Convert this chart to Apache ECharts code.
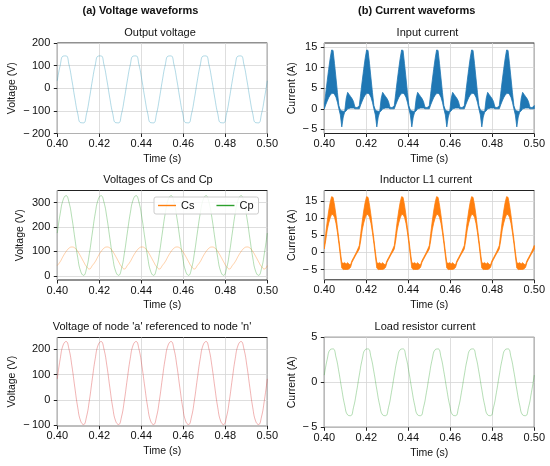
<!DOCTYPE html>
<html><head><meta charset="utf-8">
<script src="https://cdn.jsdelivr.net/npm/echarts@6/dist/echarts.min.js"></script>
<style>html,body{margin:0;padding:0;background:#fff}#c{width:550px;height:466px}</style>
</head><body><div id="c"></div>
<script>
// sampling instants (12 per 60 Hz cycle) for the sinusoidal traces
const timeCoarse = [
0.40000,0.40139,0.40278,0.40417,0.40556,0.40694,0.40833,0.40972,0.41111,0.41250,0.41389,0.41528,
0.41667,0.41806,0.41944,0.42083,0.42222,0.42361,0.42500,0.42639,0.42778,0.42917,0.43056,0.43194,
0.43333,0.43472,0.43611,0.43750,0.43889,0.44028,0.44167,0.44306,0.44444,0.44583,0.44722,0.44861,
0.45000,0.45139,0.45278,0.45417,0.45556,0.45694,0.45833,0.45972,0.46111,0.46250,0.46389,0.46528,
0.46667,0.46806,0.46944,0.47083,0.47222,0.47361,0.47500,0.47639,0.47778,0.47917,0.48056,0.48194,
0.48333,0.48472,0.48611,0.48750,0.48889,0.49028,0.49167,0.49306,0.49444,0.49583,0.49722,0.49861,
0.50000];
// sampling instants (24 per cycle) for the rippled current envelopes
const timeFine = [
0.40000,0.40069,0.40139,0.40208,0.40278,0.40347,0.40417,0.40486,0.40556,0.40625,0.40694,0.40764,0.40833,0.40903,0.40972,0.41042,0.41111,0.41181,0.41250,0.41319,0.41389,0.41458,0.41528,0.41597,
0.41667,0.41736,0.41806,0.41875,0.41944,0.42014,0.42083,0.42153,0.42222,0.42292,0.42361,0.42431,0.42500,0.42569,0.42639,0.42708,0.42778,0.42847,0.42917,0.42986,0.43056,0.43125,0.43194,0.43264,
0.43333,0.43403,0.43472,0.43542,0.43611,0.43681,0.43750,0.43819,0.43889,0.43958,0.44028,0.44097,0.44167,0.44236,0.44306,0.44375,0.44444,0.44514,0.44583,0.44653,0.44722,0.44792,0.44861,0.44931,
0.45000,0.45069,0.45139,0.45208,0.45278,0.45347,0.45417,0.45486,0.45556,0.45625,0.45694,0.45764,0.45833,0.45903,0.45972,0.46042,0.46111,0.46181,0.46250,0.46319,0.46389,0.46458,0.46528,0.46597,
0.46667,0.46736,0.46806,0.46875,0.46944,0.47014,0.47083,0.47153,0.47222,0.47292,0.47361,0.47431,0.47500,0.47569,0.47639,0.47708,0.47778,0.47847,0.47917,0.47986,0.48056,0.48125,0.48194,0.48264,
0.48333,0.48403,0.48472,0.48542,0.48611,0.48681,0.48750,0.48819,0.48889,0.48958,0.49028,0.49097,0.49167,0.49236,0.49306,0.49375,0.49444,0.49514,0.49583,0.49653,0.49722,0.49792,0.49861,0.49931,
0.50000];

const outputVoltage = [
33,102,142,143,104,36,-43,-112,-152,-153,-114,-46,
33,102,142,143,104,36,-43,-112,-152,-153,-114,-46,
33,102,142,143,104,36,-43,-112,-152,-153,-114,-46,
33,102,142,143,104,36,-43,-112,-152,-153,-114,-46,
33,102,142,143,104,36,-43,-112,-152,-153,-114,-46,
33,102,142,143,104,36,-43,-112,-152,-153,-114,-46,
33];
const voltageCs = [
42,58,80,99,113,118,114,100,80,58,38,28,
42,58,80,99,113,118,114,100,80,58,38,28,
42,58,80,99,113,118,114,100,80,58,38,28,
42,58,80,99,113,118,114,100,80,58,38,28,
42,58,80,99,113,118,114,100,80,58,38,28,
42,58,80,99,113,118,114,100,80,58,38,28,
42];
const voltageCp = [
175,255,311,328,301,238,155,75,19,2,29,92,
175,255,311,328,301,238,155,75,19,2,29,92,
175,255,311,328,301,238,155,75,19,2,29,92,
175,255,311,328,301,238,155,75,19,2,29,92,
175,255,311,328,301,238,155,75,19,2,29,92,
175,255,311,328,301,238,155,75,19,2,29,92,
175];
const voltageNodeA = [
83,163,217,231,201,135,50,-30,-84,-98,-68,-2,
83,163,217,231,201,135,50,-30,-84,-98,-68,-2,
83,163,217,231,201,135,50,-30,-84,-98,-68,-2,
83,163,217,231,201,135,50,-30,-84,-98,-68,-2,
83,163,217,231,201,135,50,-30,-84,-98,-68,-2,
83,163,217,231,201,135,50,-30,-84,-98,-68,-2,
83];
const loadCurrent = [
0.80,2.56,3.62,3.71,2.81,1.17,-0.80,-2.55,-3.62,-3.71,-2.81,-1.16,
0.80,2.56,3.62,3.71,2.81,1.17,-0.80,-2.55,-3.62,-3.71,-2.81,-1.16,
0.80,2.56,3.62,3.71,2.81,1.17,-0.80,-2.55,-3.62,-3.71,-2.81,-1.16,
0.80,2.56,3.62,3.71,2.81,1.17,-0.80,-2.55,-3.62,-3.71,-2.81,-1.16,
0.80,2.56,3.62,3.71,2.81,1.17,-0.80,-2.55,-3.62,-3.71,-2.81,-1.16,
0.80,2.56,3.62,3.71,2.81,1.17,-0.80,-2.55,-3.62,-3.71,-2.81,-1.16,
0.80];
// upper / lower envelope of the switching-ripple band
const inputCurrentUpper = [
0.8,3.8,6.8,9.6,12.2,14.3,14.2,11.0,7.5,4.0,0.8,-0.3,-0.5,-0.6,-0.6,2.5,4.0,3.5,3.0,2.5,1.8,0.4,0.3,0.4,
0.8,3.8,6.8,9.6,12.2,14.3,14.2,11.0,7.5,4.0,0.8,-0.3,-0.5,-0.6,-0.6,2.5,4.0,3.5,3.0,2.5,1.8,0.4,0.3,0.4,
0.8,3.8,6.8,9.6,12.2,14.3,14.2,11.0,7.5,4.0,0.8,-0.3,-0.5,-0.6,-0.6,2.5,4.0,3.5,3.0,2.5,1.8,0.4,0.3,0.4,
0.8,3.8,6.8,9.6,12.2,14.3,14.2,11.0,7.5,4.0,0.8,-0.3,-0.5,-0.6,-0.6,2.5,4.0,3.5,3.0,2.5,1.8,0.4,0.3,0.4,
0.8,3.8,6.8,9.6,12.2,14.3,14.2,11.0,7.5,4.0,0.8,-0.3,-0.5,-0.6,-0.6,2.5,4.0,3.5,3.0,2.5,1.8,0.4,0.3,0.4,
0.8,3.8,6.8,9.6,12.2,14.3,14.2,11.0,7.5,4.0,0.8,-0.3,-0.5,-0.6,-0.6,2.5,4.0,3.5,3.0,2.5,1.8,0.4,0.3,0.4,
0.8];
const inputCurrentLower = [
0.0,1.0,1.9,2.7,3.3,3.7,3.8,3.5,2.8,1.6,0.0,-1.5,-4.4,-2.0,-0.8,-0.5,0.0,0.1,0.2,0.2,0.2,0.0,0.0,0.0,
0.0,1.0,1.9,2.7,3.3,3.7,3.8,3.5,2.8,1.6,0.0,-1.5,-4.4,-2.0,-0.8,-0.5,0.0,0.1,0.2,0.2,0.2,0.0,0.0,0.0,
0.0,1.0,1.9,2.7,3.3,3.7,3.8,3.5,2.8,1.6,0.0,-1.5,-4.4,-2.0,-0.8,-0.5,0.0,0.1,0.2,0.2,0.2,0.0,0.0,0.0,
0.0,1.0,1.9,2.7,3.3,3.7,3.8,3.5,2.8,1.6,0.0,-1.5,-4.4,-2.0,-0.8,-0.5,0.0,0.1,0.2,0.2,0.2,0.0,0.0,0.0,
0.0,1.0,1.9,2.7,3.3,3.7,3.8,3.5,2.8,1.6,0.0,-1.5,-4.4,-2.0,-0.8,-0.5,0.0,0.1,0.2,0.2,0.2,0.0,0.0,0.0,
0.0,1.0,1.9,2.7,3.3,3.7,3.8,3.5,2.8,1.6,0.0,-1.5,-4.4,-2.0,-0.8,-0.5,0.0,0.1,0.2,0.2,0.2,0.0,0.0,0.0,
0.0];
const inductorCurrentUpper = [
2.0,5.5,9.0,12.0,14.5,16.2,16.0,13.8,10.8,7.2,3.8,0.2,-3.0,-3.2,-3.0,-3.4,-3.0,-3.5,-3.6,-2.4,-1.6,-0.8,0.0,1.0,
2.0,5.5,9.0,12.0,14.5,16.2,16.0,13.8,10.8,7.2,3.8,0.2,-3.0,-3.2,-3.0,-3.4,-3.0,-3.5,-3.6,-2.4,-1.6,-0.8,0.0,1.0,
2.0,5.5,9.0,12.0,14.5,16.2,16.0,13.8,10.8,7.2,3.8,0.2,-3.0,-3.2,-3.0,-3.4,-3.0,-3.5,-3.6,-2.4,-1.6,-0.8,0.0,1.0,
2.0,5.5,9.0,12.0,14.5,16.2,16.0,13.8,10.8,7.2,3.8,0.2,-3.0,-3.2,-3.0,-3.4,-3.0,-3.5,-3.6,-2.4,-1.6,-0.8,0.0,1.0,
2.0,5.5,9.0,12.0,14.5,16.2,16.0,13.8,10.8,7.2,3.8,0.2,-3.0,-3.2,-3.0,-3.4,-3.0,-3.5,-3.6,-2.4,-1.6,-0.8,0.0,1.0,
2.0,5.5,9.0,12.0,14.5,16.2,16.0,13.8,10.8,7.2,3.8,0.2,-3.0,-3.2,-3.0,-3.4,-3.0,-3.5,-3.6,-2.4,-1.6,-0.8,0.0,1.0,
2.0];
const inductorCurrentLower = [
1.0,3.5,6.5,8.5,10.0,11.0,11.0,10.2,8.5,5.8,2.6,-1.0,-4.6,-5.0,-5.0,-5.0,-5.0,-4.8,-4.4,-2.9,-2.1,-1.3,-0.5,0.2,
1.0,3.5,6.5,8.5,10.0,11.0,11.0,10.2,8.5,5.8,2.6,-1.0,-4.6,-5.0,-5.0,-5.0,-5.0,-4.8,-4.4,-2.9,-2.1,-1.3,-0.5,0.2,
1.0,3.5,6.5,8.5,10.0,11.0,11.0,10.2,8.5,5.8,2.6,-1.0,-4.6,-5.0,-5.0,-5.0,-5.0,-4.8,-4.4,-2.9,-2.1,-1.3,-0.5,0.2,
1.0,3.5,6.5,8.5,10.0,11.0,11.0,10.2,8.5,5.8,2.6,-1.0,-4.6,-5.0,-5.0,-5.0,-5.0,-4.8,-4.4,-2.9,-2.1,-1.3,-0.5,0.2,
1.0,3.5,6.5,8.5,10.0,11.0,11.0,10.2,8.5,5.8,2.6,-1.0,-4.6,-5.0,-5.0,-5.0,-5.0,-4.8,-4.4,-2.9,-2.1,-1.3,-0.5,0.2,
1.0,3.5,6.5,8.5,10.0,11.0,11.0,10.2,8.5,5.8,2.6,-1.0,-4.6,-5.0,-5.0,-5.0,-5.0,-4.8,-4.4,-2.9,-2.1,-1.3,-0.5,0.2,
1.0];

const yTicksOutV = [-200,-100,0,100,200];
const yTicksCsCp = [0,100,200,300];
const yTicksNodeA = [-100,0,100,200];
const yTicksInput = [-5,0,5,10,15];
const yTicksInductor = [-5,0,5,10,15];
const yTicksLoad = [-5,0,5];

const FONT = 'Liberation Sans, Arial, Helvetica, sans-serif';
const TXT = '#111';

const grids = [
  {left:57.3, top:43, width:210, height:90.5},
  {left:324.3, top:43, width:210, height:90.5},
  {left:57.3, top:190.5, width:210, height:89.5},
  {left:324.3, top:190.5, width:210, height:89.3},
  {left:57.3, top:337.5, width:210, height:88.3},
  {left:324.3, top:337.3, width:210, height:90}
].map(g => Object.assign(g, {show:true, borderColor:'#222', borderWidth:1, backgroundColor:'transparent', containLabel:false, outerBoundsMode:'none'}));

function xAx(i){
  return {type:'value', gridIndex:i, min:0.4, max:0.5, interval:0.02,
    name:'Time (s)', nameLocation:'middle', nameGap:20,
    nameTextStyle:{fontSize:10.5, color:TXT, fontFamily:FONT},
    axisLine:{show:false, onZero:false}, axisTick:{show:true, length:3.5, lineStyle:{color:'#222', width:1}},
    axisLabel:{fontSize:11, color:TXT, fontFamily:FONT, margin:5, formatter:v=>v.toFixed(2)},
    splitLine:{show:true, lineStyle:{color:'#d6d6d6', width:0.8}}};
}
const fmtY = v => v < 0 ? '\u2212\u2009' + Math.abs(v) : String(v);
function yAx(i, min, max, ticks, name, gap){
  return {type:'value', gridIndex:i, min:min, max:max,
    name:name, nameLocation:'middle', nameGap:gap,
    nameTextStyle:{fontSize:10.5, color:TXT, fontFamily:FONT},
    axisLine:{show:false, onZero:false},
    axisTick:{show:true, length:3.5, lineStyle:{color:'#222', width:1}, customValues:ticks},
    axisLabel:{fontSize:11, color:TXT, fontFamily:FONT, margin:7, formatter:fmtY, customValues:ticks},
    splitLine:{show:true, lineStyle:{color:'#d6d6d6', width:0.8}}};
}

function thinLine(name, ax, t, v, color){
  return {type:'line', name:name, xAxisIndex:ax, yAxisIndex:ax, data:t.map((x,k)=>[x, v[k]]),
    symbol:'none', showSymbol:false, smooth:true, animation:false,
    lineStyle:{color:color, width:0.7, opacity:0.5}, itemStyle:{color:color}};
}
// ripple band: filled polygon between lower and upper envelopes, placed through the axes' scales
function band(name, ax, t, lo, hi, color){
  return {type:'custom', name:name, coordinateSystem:'cartesian2d', xAxisIndex:ax, yAxisIndex:ax,
    animation:false, silent:true, clip:true,
    data:t.map((x,k)=>[x, lo[k], hi[k]]),
    encode:{x:0, y:[1,2]},
    renderItem:function(params, api){
      if (params.dataIndex !== 0) return null;
      const pts = [];
      for (let k = 0; k < t.length; k++) pts.push(api.coord([t[k], hi[k]]));
      for (let k = t.length - 1; k >= 0; k--) pts.push(api.coord([t[k], lo[k]]));
      return {type:'polygon', shape:{points:pts},
        style:{fill:color, stroke:color, lineWidth:0.8, lineJoin:'round'}};
    }};
}

function label(text, x, y, size, weight){
  return {type:'text', x:x, y:y, silent:true,
    style:{text:text, fontSize:size, fontWeight:weight||'normal', fontFamily:FONT, fill:TXT,
      align:'center', verticalAlign:'middle', textAlign:'center', textVerticalAlign:'middle'}};
}

const option = {
  backgroundColor:'#fff',
  animation:false,
  grid: grids,
  xAxis: [0,1,2,3,4,5].map(xAx),
  yAxis: [
    yAx(0, -200, 200, yTicksOutV, 'Voltage (V)', 40),
    yAx(1, -6, 16, yTicksInput, 'Current (A)', 27),
    yAx(2, -17, 349, yTicksCsCp, 'Voltage (V)', 32),
    yAx(3, -8, 18, yTicksInductor, 'Current (A)', 27),
    yAx(4, -103, 247, yTicksNodeA, 'Voltage (V)', 40),
    yAx(5, -5, 5, yTicksLoad, 'Current (A)', 27)
  ],
  legend: {data:[{name:'Cs', icon:'rect'},{name:'Cp', icon:'rect'}], left:154, top:197, orient:'horizontal',
    itemWidth:18, itemHeight:1.4, itemGap:22, padding:[3,5,3,4],
    backgroundColor:'rgba(255,255,255,0.85)', borderColor:'#cccccc', borderWidth:1, borderRadius:2,
    textStyle:{fontSize:11, color:TXT, fontFamily:FONT},
    itemStyle:{opacity:1}},
  series: [
    thinLine('Output voltage', 0, timeCoarse, outputVoltage, '#2196b8'),
    band('Input current', 1, timeFine, inputCurrentLower, inputCurrentUpper, '#1f77b4'),
    thinLine('Cs', 2, timeCoarse, voltageCs, '#ff7f0e'),
    thinLine('Cp', 2, timeCoarse, voltageCp, '#2ca02c'),
    band('Inductor L1 current', 3, timeFine, inductorCurrentLower, inductorCurrentUpper, '#ff7f0e'),
    thinLine("Voltage of node 'a'", 4, timeCoarse, voltageNodeA, '#d62728'),
    thinLine('Load resistor current', 5, timeCoarse, loadCurrent, '#2ca02c')
  ],
  graphic: [
    label('(a) Voltage waveforms', 140.5, 10.7, 11, 'bold'),
    label('(b) Current waveforms', 416.7, 10.7, 11, 'bold'),
    label('Output voltage', 160, 33.3, 11),
    label('Input current', 427.5, 33.3, 11),
    label('Voltages of Cs and Cp', 158, 180, 11),
    label('Inductor L1 current', 426, 179.5, 11),
    label("Voltage of node 'a' referenced to node 'n'", 152, 327.3, 11),
    label('Load resistor current', 425, 327, 11)
  ]
};
const chart = echarts.init(document.getElementById('c'), null, {renderer:'canvas'});
chart.setOption(option);
</script></body></html>
